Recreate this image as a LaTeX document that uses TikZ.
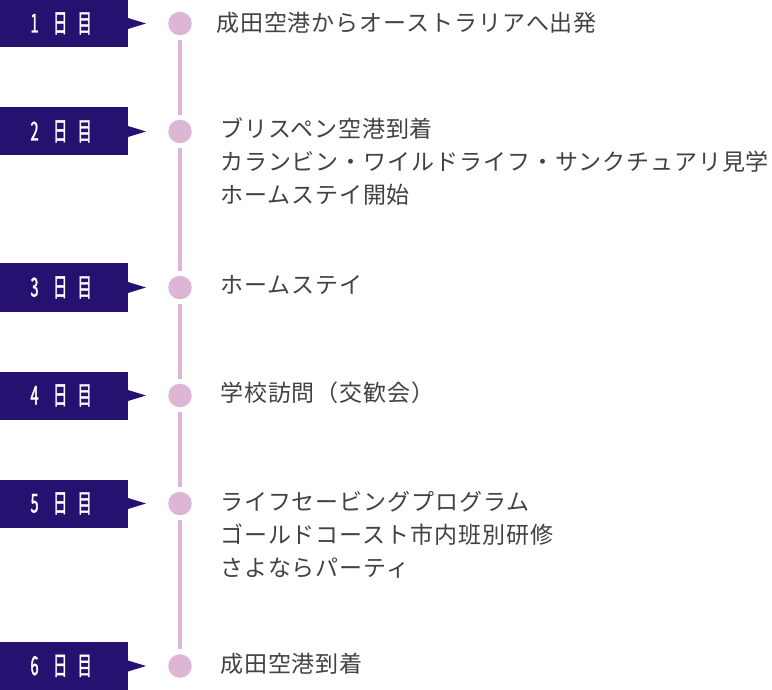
\documentclass[tikz,border=0pt]{standalone}
\usepackage{fontspec}
\setmainfont{Noto Sans CJK JP}
\newfontfamily\itemfont[LetterSpace=4]{Noto Sans CJK JP}
\newfontfamily\dayfont[FakeStretch=0.55,FakeBold=1.6]{Noto Sans CJK JP}
\definecolor{boxblue}{HTML}{261170}
\definecolor{dotpink}{HTML}{DDB5D5}
\definecolor{txtgray}{HTML}{424242}
\begin{document}
\begin{tikzpicture}[x=1pt,y=-1pt,
  daytxt/.style={text=white,font=\dayfont\fontsize{26}{26}\selectfont,anchor=base,inner sep=0pt},
  dot/.style={circle,fill=dotpink,draw=none,minimum size=23.5pt,inner sep=0pt},
  tl/.style={draw=dotpink,line width=4pt,shorten >=5pt,shorten <=5pt},
  item/.style={text=txtgray,font=\itemfont\fontsize{23}{23}\selectfont,anchor=base west,inner sep=0pt}]
\useasboundingbox (0,0) rectangle (772,690);
\fill[white] (0,0) rectangle (772,690);
% day boxes
\foreach \n/\yc in {1/23.5,2/131.5,3/287.5,4/395.5,5/503.5,6/666}{
  \fill[boxblue] (0,\yc-24) rectangle (128,\yc+24);
  \fill[boxblue] (128,\yc-5.5) -- (146,\yc) -- (128,\yc+5.5) -- cycle;
  \node[daytxt] (d\n) at (61.2,\yc+9) {\n\hspace{14.5pt}日\hspace{10.2pt}目};
  \node[dot] (c\n) at (180,\yc) {};
}
\draw[tl] (c1) -- (c2);
\draw[tl] (c2) -- (c3);
\draw[tl] (c3) -- (c4);
\draw[tl] (c4) -- (c5);
\draw[tl] (c5) -- (c6);
% texts
\node[item] (t1) at (216,31.5) {成田空港からオーストラリアへ出発};
\node[item] (t2a) at (220,137.5) {ブリスペン空港到着};
\node[item] (t2b) at (220,170.5) {カランビン・ワイルドライフ・サンクチュアリ見学};
\node[item] (t2c) at (220,203.5) {ホームステイ開始};
\node[item] (t3) at (220,293.5) {ホームステイ};
\node[item] (t4) at (220,401.5) {学校訪問（交歓会）};
\node[item] (t5a) at (220,510.5) {ライフセービングプログラム};
\node[item] (t5b) at (220,543.5) {ゴールドコースト市内班別研修};
\node[item] (t5c) at (220,576.5) {さよならパーティ};
\node[item] (t6) at (220,672.5) {成田空港到着};
\end{tikzpicture}
\end{document}
